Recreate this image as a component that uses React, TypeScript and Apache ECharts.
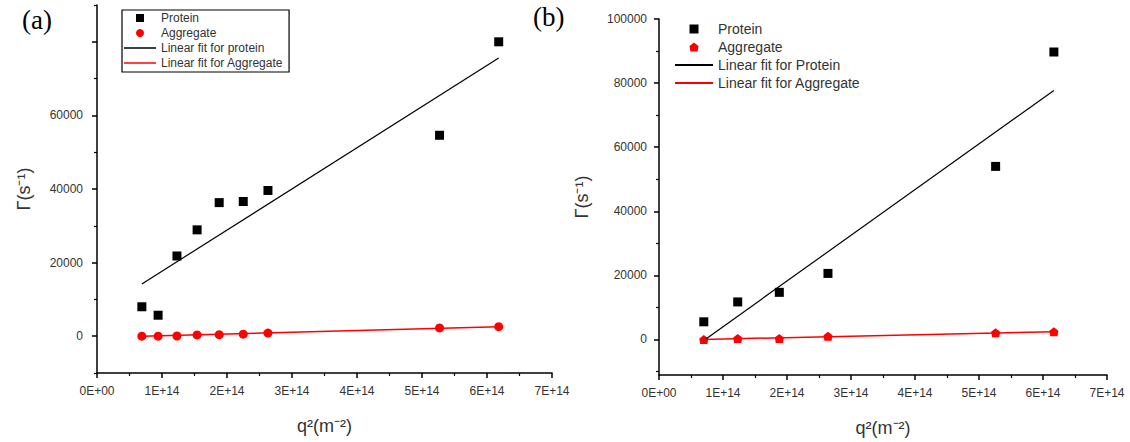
import React, { useEffect, useRef } from "react";
import * as echarts from "echarts";

// Panel (a) — q² in units of 1E+14 m⁻²
const xA = [0.69, 0.94, 1.23, 1.54, 1.88, 2.25, 2.63, 5.27, 6.18];
const proteinA = [8000, 5700, 21800, 28900, 36300, 36600, 39600, 54600, 80000];
const aggregateA = [0, 0, 50, 350, 400, 550, 850, 2250, 2600];
const fitProteinA = [[0.69, 14200], [6.18, 75600]];
const fitAggregateA = [[0.69, 0], [6.18, 2600]];

// Panel (b)
const xB = [0.70, 1.23, 1.88, 2.64, 5.26, 6.17];
const proteinB = [5500, 11700, 14700, 20600, 54000, 89700];
const aggregateB = [0, 300, 300, 1000, 2100, 2400];
const fitProteinB = [[0.70, -300], [6.17, 77700]];
const fitAggregateB = [[0.70, 0], [6.17, 2400]];

// Axis ticks
const yMajorA = [0, 20000, 40000, 60000, 80000];
const yLabelA = [0, 20000, 40000, 60000];
const yMinorA = [-10000, 10000, 30000, 50000, 70000, 90000];
const yMajorB = [0, 20000, 40000, 60000, 80000, 100000];
const yMinorB = [-10000, 10000, 30000, 50000, 70000, 90000];

const zip = (xs: number[], ys: number[]) => xs.map((x, i) => [x, ys[i]]);

const SQ = "path://M0,0H8V8H0Z";
const LN = "path://M0,0H32V1.5H0Z";
const HOUSE = "path://M5,0L10,4L9,10L1,10L0,4Z";

const font = "Liberation Sans, Arial, sans-serif";

function xAxis(gridIndex: number) {
  return {
    type: "value",
    gridIndex,
    min: 0,
    max: 7,
    interval: 1,
    axisLine: { show: true, onZero: false, lineStyle: { color: "#000", width: 1.5 } },
    axisTick: { show: true, length: 5, lineStyle: { color: "#000", width: 1.5 } },
    minorTick: { show: true, splitNumber: 2, length: 3, lineStyle: { color: "#000", width: 1.2 } },
    splitLine: { show: false },
    axisLabel: {
      formatter: (v: number) => (v === 0 ? "0E+00" : `${v}E+14`),
      color: "#333",
      fontSize: 12,
      fontFamily: font,
      margin: 12,
    },
    name: "q²(m⁻²)",
    nameLocation: "middle",
    nameGap: 44,
    nameTextStyle: { fontSize: 18, color: "#333", fontFamily: font },
  };
}

function yMajor(gridIndex: number, min: number, max: number, ticks: number[], labels: number[], margin: number, gap: number) {
  return {
    type: "value",
    gridIndex,
    position: "left",
    offset: 0,
    min,
    max,
    axisLine: { show: true, onZero: false, lineStyle: { color: "#000", width: 1.5 } },
    axisTick: { show: true, length: 5, customValues: ticks, lineStyle: { color: "#000", width: 1.5 } },
    splitLine: { show: false },
    axisLabel: {
      customValues: labels,
      formatter: (v: number) => String(v),
      color: "#333",
      fontSize: 12,
      fontFamily: font,
      margin,
    },
    name: "Γ(s⁻¹)",
    nameLocation: "middle",
    nameGap: gap,
    nameRotate: 90,
    nameTextStyle: { fontSize: 18, color: "#333", fontFamily: font },
  };
}

function yMinor(gridIndex: number, min: number, max: number, ticks: number[]) {
  return {
    type: "value",
    gridIndex,
    position: "left",
    offset: 0,
    min,
    max,
    axisLine: { show: false, onZero: false },
    axisTick: { show: true, length: 3, customValues: ticks, lineStyle: { color: "#000", width: 1.2 } },
    splitLine: { show: false },
    axisLabel: { show: false },
  };
}

export default function App() {
  const ref = useRef<HTMLDivElement>(null);
  useEffect(() => {
    if (!ref.current) return;
    const chart = echarts.init(ref.current, undefined, { renderer: "svg" });
    chart.setOption({
      animation: false,
      grid: [
        { left: 97, top: 5, width: 455, height: 368 },
        { left: 659, top: 19, width: 448, height: 363 },
      ],
      xAxis: [xAxis(0), xAxis(1)],
      yAxis: [
        yMajor(0, -10000, 90000, yMajorA, yLabelA, 14, 64),
        yMinor(0, -10000, 90000, yMinorA),
        yMajor(1, -11100, 100000, yMajorB, yMajorB, 12, 68),
        yMinor(1, -11100, 100000, yMinorB),
      ],
      legend: [
        {
          left: 122,
          top: 10,
          orient: "vertical",
          borderColor: "#000",
          borderWidth: 1.2,
          borderRadius: 0,
          padding: [2, 6, 3, 2],
          itemGap: 3,
          itemWidth: 32,
          itemHeight: 8,
          selectedMode: false,
          textStyle: { fontSize: 12, color: "#333", fontFamily: font },
          data: [
            { name: "Protein", icon: SQ },
            { name: "Aggregate", icon: "circle" },
            { name: "Linear fit for protein", icon: LN },
            { name: "Linear fit for Aggregate", icon: LN },
          ],
        },
        {
          left: 675,
          top: 22,
          orient: "vertical",
          padding: 0,
          itemGap: 4,
          itemWidth: 38,
          itemHeight: 9,
          selectedMode: false,
          textStyle: { fontSize: 14, color: "#333", fontFamily: font },
          data: [
            { name: "Protein", icon: SQ },
            { name: "Aggregate", icon: HOUSE },
            { name: "Linear fit for Protein", icon: LN },
            { name: "Linear fit for Aggregate", icon: LN },
          ],
        },
      ],
      series: [
        {
          name: "Protein", type: "scatter", xAxisIndex: 0, yAxisIndex: 0,
          symbol: "rect", symbolSize: 9, itemStyle: { color: "#000", opacity: 1 }, data: zip(xA, proteinA),
        },
        {
          name: "Aggregate", type: "scatter", xAxisIndex: 0, yAxisIndex: 0,
          symbol: "circle", symbolSize: 9, itemStyle: { color: "#ff0000", opacity: 1 }, data: zip(xA, aggregateA),
        },
        {
          name: "Linear fit for protein", type: "line", xAxisIndex: 0, yAxisIndex: 0, showSymbol: false,
          symbol: "none", lineStyle: { color: "#000", width: 1.2 }, itemStyle: { color: "#000" }, data: fitProteinA,
        },
        {
          name: "Linear fit for Aggregate", type: "line", xAxisIndex: 0, yAxisIndex: 0, showSymbol: false,
          symbol: "none", lineStyle: { color: "#ff0000", width: 1.5 }, itemStyle: { color: "#ff0000" }, data: fitAggregateA,
        },
        {
          name: "Protein", type: "scatter", xAxisIndex: 1, yAxisIndex: 2,
          symbol: "rect", symbolSize: 9, itemStyle: { color: "#000", opacity: 1 }, data: zip(xB, proteinB),
        },
        {
          name: "Aggregate", type: "scatter", xAxisIndex: 1, yAxisIndex: 2,
          symbol: HOUSE, symbolSize: 9, itemStyle: { color: "#ff0000", opacity: 1 }, data: zip(xB, aggregateB),
        },
        {
          name: "Linear fit for Protein", type: "line", xAxisIndex: 1, yAxisIndex: 2, showSymbol: false,
          symbol: "none", lineStyle: { color: "#000", width: 1.2 }, itemStyle: { color: "#000" }, data: fitProteinB,
        },
        {
          name: "Linear fit for Aggregate", type: "line", xAxisIndex: 1, yAxisIndex: 2, showSymbol: false,
          symbol: "none", lineStyle: { color: "#ff0000", width: 1.5 }, itemStyle: { color: "#ff0000" }, data: fitAggregateB,
        },
      ],
      graphic: [
        {
          type: "text", left: 22, top: 6,
          style: { text: "(a)", fontSize: 27, fontFamily: "Liberation Serif, serif", fill: "#000" },
        },
        {
          type: "text", left: 533, top: 3,
          style: { text: "(b)", fontSize: 27, fontFamily: "Liberation Serif, serif", fill: "#000" },
        },
      ],
    });
    return () => chart.dispose();
  }, []);
  return (
    <div
      ref={ref}
      style={{ position: "fixed", left: 0, top: 0, width: 1130, height: 442, background: "#fff" }}
    />
  );
}
